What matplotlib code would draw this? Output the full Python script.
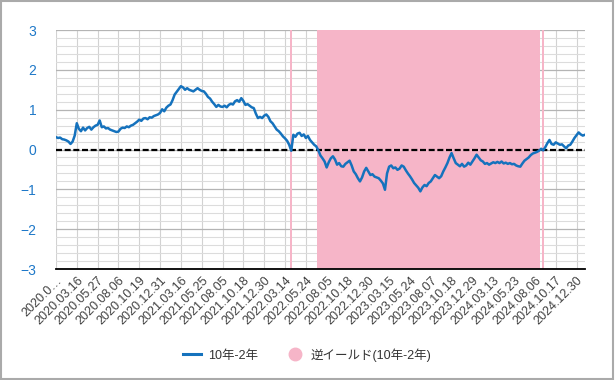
import matplotlib.pyplot as plt
import numpy as np
from matplotlib.lines import Line2D
from matplotlib.patches import Rectangle

plt.rcParams['font.family'] = ['Liberation Sans', 'Noto Sans CJK JP', 'DejaVu Sans']

# 10y - 2y spread, roughly weekly readings (10 per tick interval)
spread = [
    0.31, 0.29, 0.30, 0.26, 0.25, 0.23, 0.20, 0.14, 0.20, 0.35,
    0.66, 0.52, 0.46, 0.55, 0.48, 0.54, 0.57, 0.50, 0.56, 0.60,
    0.62, 0.73, 0.56, 0.58, 0.53, 0.54, 0.50, 0.48, 0.46, 0.44,
    0.45, 0.52, 0.55, 0.54, 0.58, 0.56, 0.60, 0.62, 0.66, 0.70,
    0.75, 0.72, 0.78, 0.79, 0.76, 0.81, 0.80, 0.84, 0.86, 0.88,
    0.92, 1.01, 0.96, 1.05, 1.10, 1.13, 1.24, 1.38, 1.45, 1.52,
    1.59, 1.56, 1.50, 1.54, 1.50, 1.48, 1.46, 1.50, 1.54, 1.50,
    1.47, 1.46, 1.40, 1.32, 1.28, 1.20, 1.14, 1.07, 1.12, 1.08,
    1.07, 1.10, 1.06, 1.12, 1.15, 1.13, 1.21, 1.24, 1.20, 1.29,
    1.22, 1.12, 1.14, 1.10, 1.06, 1.04, 0.90, 0.79, 0.82, 0.79,
    0.85, 0.88, 0.82, 0.71, 0.66, 0.58, 0.50, 0.46, 0.40, 0.33,
    0.28, 0.22, 0.12, -0.03, 0.37, 0.32, 0.40, 0.42, 0.34, 0.38,
    0.29, 0.34, 0.24, 0.18, 0.12, 0.08, -0.02, -0.15, -0.22, -0.30,
    -0.45, -0.32, -0.22, -0.17, -0.25, -0.38, -0.34, -0.42, -0.43, -0.36,
    -0.32, -0.28, -0.40, -0.55, -0.62, -0.72, -0.80, -0.70, -0.55, -0.46,
    -0.55, -0.64, -0.62, -0.68, -0.70, -0.72, -0.78, -0.85, -1.01, -0.60,
    -0.43, -0.40, -0.47, -0.45, -0.51, -0.48, -0.40, -0.43, -0.52, -0.60,
    -0.67, -0.75, -0.84, -0.90, -0.96, -1.05, -0.95, -0.89, -0.92, -0.84,
    -0.80, -0.72, -0.64, -0.68, -0.72, -0.67, -0.55, -0.45, -0.34, -0.20,
    -0.09, -0.22, -0.34, -0.38, -0.42, -0.36, -0.43, -0.40, -0.33, -0.38,
    -0.30, -0.22, -0.13, -0.20, -0.27, -0.30, -0.36, -0.34, -0.38, -0.35,
    -0.32, -0.34, -0.31, -0.34, -0.30, -0.35, -0.33, -0.36, -0.34, -0.37,
    -0.36, -0.40, -0.42, -0.43, -0.35, -0.28, -0.24, -0.20, -0.14, -0.10,
    -0.08, -0.06, -0.03, 0.02, -0.02, 0.06, 0.16, 0.24, 0.14, 0.12,
    0.18, 0.15, 0.12, 0.13, 0.08, 0.03, 0.10, 0.12, 0.20, 0.29,
    0.36, 0.43, 0.38, 0.35, 0.37,
]

tick_labels = [
    '2020.0…', '2020.03.16', '2020.05.27', '2020.08.06', '2020.10.19', '2020.12.31',
    '2021.03.16', '2021.05.25', '2021.08.05', '2021.10.18', '2021.12.30',
    '2022.03.14', '2022.05.24', '2022.08.05', '2022.10.18', '2022.12.30',
    '2023.03.15', '2023.05.24', '2023.08.07', '2023.10.18', '2023.12.29',
    '2024.03.13', '2024.05.23', '2024.08.06', '2024.10.17', '2024.12.30',
]
tick_step = 10

blue = '#1572BD'
pink = '#F6B5C8'

y = np.array(spread)
x = np.arange(len(y))
inverted = y < 0

fig = plt.figure(figsize=(6.15, 3.8), dpi=100)
ax = fig.add_axes([0.091, 0.292, 0.86, 0.629])

# inverted-yield background bars
ax.bar(x[inverted], 6, bottom=-3, width=1.0, color=pink, linewidth=0, zorder=1)

ax.plot(x, y, color=blue, linewidth=1.8, zorder=4)
ax.axhline(0, color='black', linewidth=1.6, dashes=(2.7, 1.2), zorder=3)

ax.set_xlim(0, len(y) - 1)
ax.set_ylim(-3, 3)
ax.set_yticks(np.arange(-3, 4, 1))
ax.set_yticks(np.arange(-3, 3.01, 0.2), minor=True)
ax.set_xticks(np.arange(len(tick_labels)) * tick_step)
ax.set_xticklabels(tick_labels, rotation=45, ha='right', rotation_mode='anchor',
                   fontsize=9, color='#404040')

ax.set_axisbelow(True)
ax.grid(axis='y', which='major', color='#b4b4b4', linewidth=0.9)
ax.grid(axis='y', which='minor', color='#dcdcdc', linewidth=0.8)
ax.grid(axis='x', which='major', color='#d2d2d2', linewidth=0.8)

ax.tick_params(axis='y', which='both', length=0, pad=14, labelsize=10, labelcolor='#1E78C8')
ax.tick_params(axis='x', length=0, pad=4)
for side in ['left', 'right', 'top']:
    ax.spines[side].set_visible(False)
ax.spines['bottom'].set_color('black')
ax.spines['bottom'].set_linewidth(1.3)
ax.spines['bottom'].set_zorder(5)

handles = [
    Line2D([0], [0], color=blue, linewidth=2.2),
    Line2D([0], [0], marker='o', color='none', markerfacecolor=pink,
           markeredgecolor=pink, markersize=9, linestyle='None'),
]
fig.legend(handles, ['10年-2年', '逆イールド(10年-2年)'], loc='center',
           bbox_to_anchor=(0.5, 0.066), ncol=2, frameon=False, fontsize=9,
           handlelength=1.4, columnspacing=2.2, handletextpad=0.6,
           labelcolor='#333333')

fig.patches.append(Rectangle((0.001, 0.002), 0.995, 0.996, transform=fig.transFigure,
                             fill=False, edgecolor='#aaaaaa', linewidth=1.5))

fig.savefig('out.png', dpi=100)
